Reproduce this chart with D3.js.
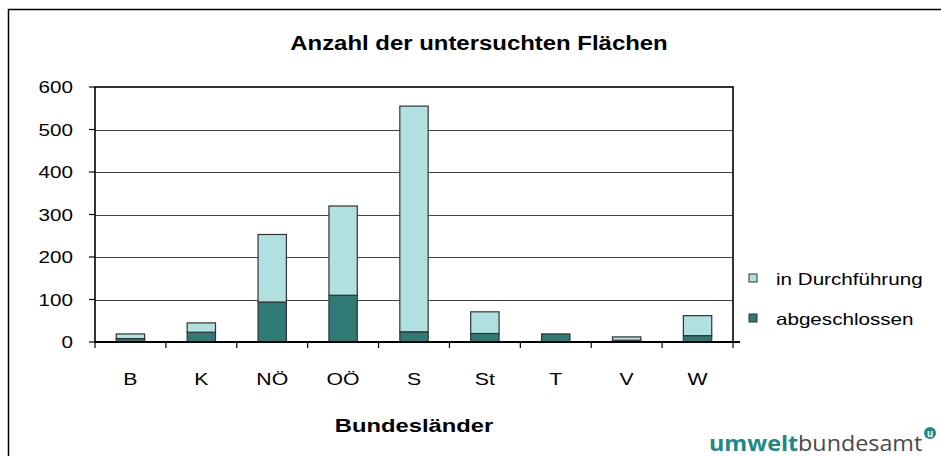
<!DOCTYPE html>
<html>
<head>
<meta charset="utf-8">
<script src="https://cdn.jsdelivr.net/npm/d3@7"></script>
<style>
  body { margin: 0; background: #fff; }
  text { font-family: "Liberation Sans", Arial, sans-serif; }
</style>
</head>
<body>
<div id="chart"></div>
<script>
// data
var laender = ["B", "K", "NÖ", "OÖ", "S", "St", "T", "V", "W"];
var abgeschlossen = [8, 23, 94, 110, 24, 20, 19, 4, 15];
var inDurchfuehrung = [11, 22, 159, 210, 531, 51, 0, 8, 47];
var yTicks = [0, 100, 200, 300, 400, 500, 600];
var seriesNames = ["in Durchführung", "abgeschlossen"];

var outerWidth = 941;
var outerHeight = 456;
var plot = { left: 95, top: 87, right: 733, bottom: 342 };

var colors = { abgeschlossen: "#2f7a77", inDurchfuehrung: "#b0e0df" };

// the original text is a bit wider than Liberation Sans
var stretch = 1.25;

function place(x, y, sx) {
    return "translate(" + x + "," + y + ") scale(" + (sx || stretch) + ",1)";
}

var svg = d3.select("#chart").append("svg")
    .attr("width", outerWidth)
    .attr("height", outerHeight);

// outer frame
svg.append("rect")
    .attr("x", 8.5).attr("y", 9.5)
    .attr("width", 960).attr("height", 480)
    .attr("fill", "none").attr("stroke", "#000").attr("stroke-width", 1.5);

//scales
var x = d3.scaleBand()
    .domain(laender)
    .range([plot.left, plot.right])
    .paddingInner(0.6).paddingOuter(0.3);

var xOuter = d3.scaleBand()
    .domain(laender)
    .range([plot.left, plot.right]);

var y = d3.scaleLinear()
    .domain([0, 600])
    .range([plot.bottom, plot.top]);

// gridlines
svg.append("g").selectAll("line")
    .data(yTicks.slice(1, -1))
    .enter().append("line")
    .attr("x1", plot.left).attr("x2", plot.right)
    .attr("y1", function (d) { return Math.round(y(d)) + 0.5; })
    .attr("y2", function (d) { return Math.round(y(d)) + 0.5; })
    .attr("stroke", "#444").attr("stroke-width", 1.2);

// plot box
svg.append("rect")
    .attr("x", plot.left).attr("y", plot.top)
    .attr("width", plot.right - plot.left).attr("height", plot.bottom - plot.top)
    .attr("fill", "none").attr("stroke", "#000").attr("stroke-width", 1.6);

// stacked bars
var stackData = laender.map(function (l, i) {
    return { land: l, abgeschlossen: abgeschlossen[i], inDurchfuehrung: inDurchfuehrung[i] };
});
var stack = d3.stack().keys(["abgeschlossen", "inDurchfuehrung"]);
var layers = stack(stackData);

svg.append("g").selectAll("g")
    .data(layers)
    .enter().append("g")
    .attr("fill", function (d) { return colors[d.key]; })
    .selectAll("rect")
    .data(function (d) { return d.filter(function (p) { return p[1] > p[0]; }); })
    .enter().append("rect")
    .attr("x", function (d) { return x(d.data.land); })
    .attr("width", x.bandwidth())
    .attr("y", function (d) { return y(d[1]); })
    .attr("height", function (d) { return y(d[0]) - y(d[1]); })
    .attr("stroke", "#333")
    .attr("stroke-width", 1.2);

// x axis line (drawn over bars)
svg.append("line")
    .attr("x1", plot.left).attr("x2", plot.right + 7)
    .attr("y1", plot.bottom).attr("y2", plot.bottom)
    .attr("stroke", "#000").attr("stroke-width", 2);

// x ticks at category boundaries
var bounds = laender.map(function (l) { return xOuter(l); }).concat([plot.right]);
svg.append("g").selectAll("line")
    .data(bounds)
    .enter().append("line")
    .attr("x1", function (d) { return d; }).attr("x2", function (d) { return d; })
    .attr("y1", plot.bottom).attr("y2", plot.bottom + 6)
    .attr("stroke", "#000").attr("stroke-width", 1.2);

// y axis ticks and labels
var yAxis = svg.append("g");
yAxis.selectAll("line")
    .data(yTicks)
    .enter().append("line")
    .attr("x1", plot.left - 6).attr("x2", plot.left)
    .attr("y1", function (d) { return y(d); }).attr("y2", function (d) { return y(d); })
    .attr("stroke", "#000").attr("stroke-width", 1.2);
yAxis.selectAll("text")
    .data(yTicks)
    .enter().append("text")
    .attr("transform", function (d) { return place(73, y(d) + 6); })
    .attr("text-anchor", "end")
    .attr("font-size", "16.5px")
    .text(function (d) { return d; });

// x labels
svg.append("g").selectAll("text")
    .data(laender)
    .enter().append("text")
    .attr("transform", function (d) { return place(xOuter(d) + xOuter.bandwidth() / 2, 385); })
    .attr("text-anchor", "middle")
    .attr("font-size", "17px")
    .text(function (d) { return d; });

// title
svg.append("text")
    .attr("transform", place(479, 50, 1.14))
    .attr("text-anchor", "middle")
    .attr("font-size", "21px").attr("font-weight", "bold")
    .text("Anzahl der untersuchten Flächen");

// axis title
svg.append("text")
    .attr("transform", place(414, 432))
    .attr("text-anchor", "middle")
    .attr("font-size", "19px").attr("font-weight", "bold")
    .text("Bundesländer");

// legend
var legend = svg.append("g").selectAll("g")
    .data(seriesNames)
    .enter().append("g")
    .attr("transform", function (d, i) { return "translate(749," + (274 + i * 40) + ")"; });
legend.append("rect")
    .attr("width", 8).attr("height", 8)
    .attr("fill", function (d, i) { return i === 0 ? colors.inDurchfuehrung : colors.abgeschlossen; })
    .attr("stroke", "#333").attr("stroke-width", 1);
legend.append("text")
    .attr("transform", place(27, 11))
    .attr("font-size", "16.5px")
    .text(function (d) { return d; });

// logo
var logo = svg.append("text")
    .attr("transform", place(709, 451, 1.11))
    .style("font-family", "'Open Sans', sans-serif")
    .attr("font-size", "21px");
logo.append("tspan")
    .attr("font-weight", "bold").attr("fill", "#1b8a84")
    .text("umwelt");
logo.append("tspan")
    .attr("fill", "#4a4a4a")
    .text("bundesamt");
svg.append("circle")
    .attr("cx", 930).attr("cy", 433).attr("r", 6)
    .attr("fill", "#1b8a84");
svg.append("text")
    .attr("x", 930).attr("y", 436.5)
    .attr("text-anchor", "middle")
    .attr("font-size", "10px").attr("font-weight", "bold")
    .attr("fill", "#fff")
    .text("u");
</script>
</body>
</html>
